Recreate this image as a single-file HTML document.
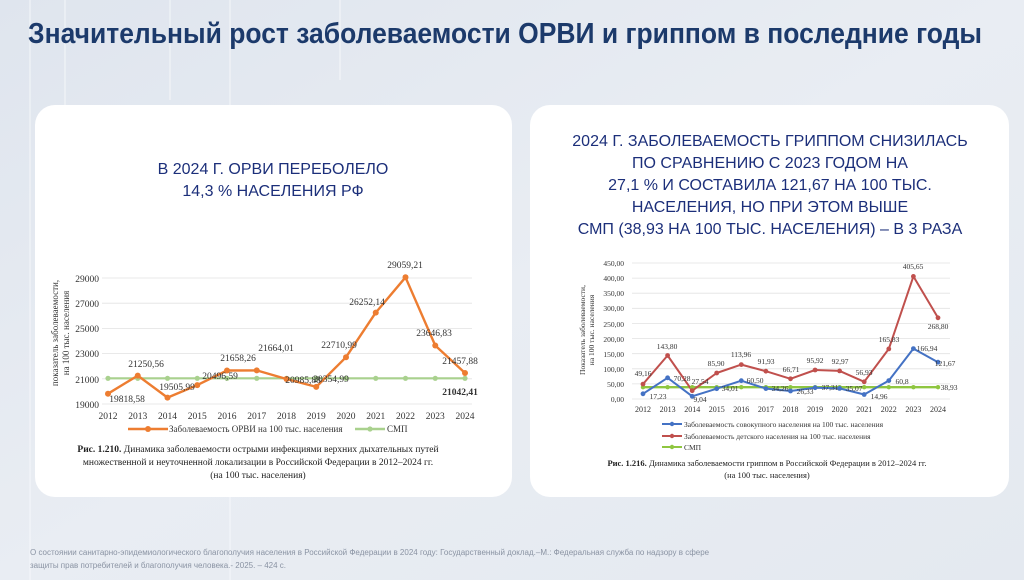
<!DOCTYPE html>
<html><head><meta charset="utf-8"><style>
html,body{margin:0;padding:0;width:1024px;height:580px;overflow:hidden;background:#e6ebf2;}
svg{display:block;font-family:"Liberation Serif",serif;}
</style></head><body>
<svg width="1024" height="580" viewBox="0 0 1024 580" xmlns="http://www.w3.org/2000/svg">
<defs><linearGradient id="bg" x1="0" y1="0" x2="1" y2="1"><stop offset="0" stop-color="#dfe5ee"/><stop offset="0.5" stop-color="#e9edf3"/><stop offset="1" stop-color="#e4e9f0"/></linearGradient></defs>
<rect width="1024" height="580" fill="url(#bg)"/>
<g stroke="#f6f8fb" stroke-width="1.2" fill="none" opacity="0.8">
<line x1="30" y1="0" x2="30" y2="580"/><line x1="65" y1="0" x2="65" y2="200"/><line x1="170" y1="0" x2="170" y2="100"/><line x1="230" y1="0" x2="230" y2="580"/><line x1="340" y1="0" x2="340" y2="80"/>
</g>
<text x="28" y="43" font-family="'Liberation Sans Narrow','Liberation Sans',sans-serif" font-weight="bold" font-size="29" fill="#1c3a6b" textLength="954" lengthAdjust="spacingAndGlyphs">Значительный рост заболеваемости ОРВИ и гриппом в последние годы</text>

<rect x="35" y="105" width="477" height="392" rx="20" fill="#fff"/>
<rect x="530" y="105" width="479" height="392" rx="20" fill="#fff"/>

<g font-family="'Liberation Sans',sans-serif" font-size="16" fill="#1c2f7a" text-anchor="middle">
<text x="273" y="174">В 2024 Г. ОРВИ ПЕРЕБОЛЕЛО</text>
<text x="273" y="196">14,3 % НАСЕЛЕНИЯ РФ</text>
<text x="770" y="146">2024 Г. ЗАБОЛЕВАЕМОСТЬ ГРИППОМ СНИЗИЛАСЬ</text>
<text x="770" y="168">ПО СРАВНЕНИЮ С 2023 ГОДОМ НА</text>
<text x="770" y="190">27,1 % И СОСТАВИЛА 121,67 НА 100 ТЫС.</text>
<text x="770" y="212">НАСЕЛЕНИЯ, НО ПРИ ЭТОМ ВЫШЕ</text>
<text x="770" y="234">СМП (38,93 НА 100 ТЫС. НАСЕЛЕНИЯ) – В 3 РАЗА</text>
</g>

<!-- left chart -->
<g stroke="#e2e2e2" stroke-width="0.8">
<line x1="102" y1="404" x2="472" y2="404"/><line x1="102" y1="378.8" x2="472" y2="378.8"/><line x1="102" y1="353.6" x2="472" y2="353.6"/><line x1="102" y1="328.4" x2="472" y2="328.4"/><line x1="102" y1="303.2" x2="472" y2="303.2"/><line x1="102" y1="278" x2="472" y2="278"/>
</g>
<g font-size="9.5" fill="#333" text-anchor="end">
<text x="99" y="408">19000</text><text x="99" y="383">21000</text><text x="99" y="357">23000</text><text x="99" y="332">25000</text><text x="99" y="307">27000</text><text x="99" y="282">29000</text>
</g>
<text transform="translate(58,333) rotate(-90)" font-size="9" fill="#333" text-anchor="middle">показатель заболеваемости,</text>
<text transform="translate(69,333) rotate(-90)" font-size="9" fill="#333" text-anchor="middle">на 100 тыс. населения</text>
<g font-size="9.5" fill="#333" text-anchor="middle">
<text x="108" y="419">2012</text><text x="137.75" y="419">2013</text><text x="167.5" y="419">2014</text><text x="197.25" y="419">2015</text><text x="227" y="419">2016</text><text x="256.75" y="419">2017</text><text x="286.5" y="419">2018</text><text x="316.25" y="419">2019</text><text x="346" y="419">2020</text><text x="375.75" y="419">2021</text><text x="405.5" y="419">2022</text><text x="435.25" y="419">2023</text><text x="465" y="419">2024</text>
</g>
<polyline fill="none" stroke="#a9d18e" stroke-width="2.2" points="108,378.3 465,378.3"/>
<g fill="#a9d18e"><circle cx="108" cy="378.3" r="2.6"/><circle cx="137.75" cy="378.3" r="2.6"/><circle cx="167.5" cy="378.3" r="2.6"/><circle cx="197.25" cy="378.3" r="2.6"/><circle cx="227" cy="378.3" r="2.6"/><circle cx="256.75" cy="378.3" r="2.6"/><circle cx="286.5" cy="378.3" r="2.6"/><circle cx="316.25" cy="378.3" r="2.6"/><circle cx="346" cy="378.3" r="2.6"/><circle cx="375.75" cy="378.3" r="2.6"/><circle cx="405.5" cy="378.3" r="2.6"/><circle cx="435.25" cy="378.3" r="2.6"/><circle cx="465" cy="378.3" r="2.6"/></g>
<polyline fill="none" stroke="#ed7d31" stroke-width="2.4" stroke-linejoin="round" points="108,393.7 137.75,375.6 167.5,397.6 197.25,385.1 227,370.5 256.75,370.4 286.5,379 316.25,386.9 346,357.2 375.75,312.6 405.5,277.3 435.25,345.5 465,373"/>
<g fill="#ed7d31"><circle cx="108" cy="393.7" r="3"/><circle cx="137.75" cy="375.6" r="3"/><circle cx="167.5" cy="397.6" r="3"/><circle cx="197.25" cy="385.1" r="3"/><circle cx="227" cy="370.5" r="3"/><circle cx="256.75" cy="370.4" r="3"/><circle cx="286.5" cy="379" r="3"/><circle cx="316.25" cy="386.9" r="3"/><circle cx="346" cy="357.2" r="3"/><circle cx="375.75" cy="312.6" r="3"/><circle cx="405.5" cy="277.3" r="3"/><circle cx="435.25" cy="345.5" r="3"/><circle cx="465" cy="373" r="3"/></g>
<g font-size="9.5" fill="#333" text-anchor="middle">
<text x="127" y="402">19818,58</text><text x="146" y="367">21250,56</text><text x="177" y="390">19505,99</text><text x="220" y="379">20496,59</text><text x="238" y="361">21658,26</text><text x="276" y="351">21664,01</text><text x="303" y="383">20985,88</text><text x="331" y="382">20354,99</text><text x="339" y="348">22710,99</text><text x="367" y="305">26252,14</text><text x="405" y="268">29059,21</text><text x="434" y="336">23646,83</text><text x="460" y="364">21457,88</text>
<text x="460" y="395" font-weight="bold">21042,41</text>
</g>
<line x1="128" y1="429" x2="168" y2="429" stroke="#ed7d31" stroke-width="2.4"/><circle cx="148" cy="429" r="3" fill="#ed7d31"/>
<text x="169" y="432" font-size="9" fill="#333">Заболеваемость ОРВИ на 100 тыс. населения</text>
<line x1="355" y1="429" x2="385" y2="429" stroke="#a9d18e" stroke-width="2.4"/><circle cx="370" cy="429" r="2.6" fill="#a9d18e"/>
<text x="387" y="432" font-size="9" fill="#333">СМП</text>
<g font-size="9.5" fill="#222" text-anchor="middle">
<text x="258" y="452"><tspan font-weight="bold">Рис. 1.210.</tspan> Динамика заболеваемости острыми инфекциями верхних дыхательных путей</text>
<text x="258" y="465">множественной и неуточненной локализации в Российской Федерации в 2012–2024 гг.</text>
<text x="258" y="478">(на 100 тыс. населения)</text>
</g>

<!-- right chart -->
<g stroke="#e2e2e2" stroke-width="0.8">
<line x1="632" y1="399" x2="950" y2="399"/><line x1="632" y1="383.9" x2="950" y2="383.9"/><line x1="632" y1="368.8" x2="950" y2="368.8"/><line x1="632" y1="353.7" x2="950" y2="353.7"/><line x1="632" y1="338.6" x2="950" y2="338.6"/><line x1="632" y1="323.5" x2="950" y2="323.5"/><line x1="632" y1="308.3" x2="950" y2="308.3"/><line x1="632" y1="293.2" x2="950" y2="293.2"/><line x1="632" y1="278.1" x2="950" y2="278.1"/><line x1="632" y1="263" x2="950" y2="263"/>
</g>
<g font-size="7.5" fill="#333" text-anchor="end">
<text x="624" y="402">0,00</text><text x="624" y="387">50,00</text><text x="624" y="372">100,00</text><text x="624" y="357">150,00</text><text x="624" y="342">200,00</text><text x="624" y="327">250,00</text><text x="624" y="311">300,00</text><text x="624" y="296">350,00</text><text x="624" y="281">400,00</text><text x="624" y="266">450,00</text>
</g>
<text transform="translate(585,330) rotate(-90)" font-size="7.5" fill="#333" text-anchor="middle">Показатель заболеваемости,</text>
<text transform="translate(594,330) rotate(-90)" font-size="7.5" fill="#333" text-anchor="middle">на 100 тыс. населения</text>
<g font-size="8" fill="#333" text-anchor="middle">
<text x="643" y="412">2012</text><text x="667.6" y="412">2013</text><text x="692.2" y="412">2014</text><text x="716.7" y="412">2015</text><text x="741.3" y="412">2016</text><text x="765.9" y="412">2017</text><text x="790.5" y="412">2018</text><text x="815.1" y="412">2019</text><text x="839.6" y="412">2020</text><text x="864.2" y="412">2021</text><text x="888.8" y="412">2022</text><text x="913.4" y="412">2023</text><text x="938" y="412">2024</text>
</g>
<polyline fill="none" stroke="#8fc640" stroke-width="2.4" points="643,387.2 938,387.2"/>
<polyline fill="none" stroke="#4472c4" stroke-width="2" stroke-linejoin="round" points="643,393.8 667.6,377.8 692.2,396.3 716.7,388.7 741.3,380.7 765.9,388.6 790.5,391 815.1,387.7 839.6,388.4 864.2,394.5 888.8,380.6 913.4,348.6 938,362.2"/>
<polyline fill="none" stroke="#c0504d" stroke-width="2" stroke-linejoin="round" points="643,384.1 667.6,355.5 692.2,390.7 716.7,373 741.3,364.6 765.9,371.2 790.5,378.8 815.1,370 839.6,370.9 864.2,381.8 888.8,348.9 913.4,276.4 938,317.8"/>
<g fill="#8fc640"><circle cx="643" cy="387.2" r="2.2"/><circle cx="667.6" cy="387.2" r="2.2"/><circle cx="692.2" cy="387.2" r="2.2"/><circle cx="716.7" cy="387.2" r="2.2"/><circle cx="741.3" cy="387.2" r="2.2"/><circle cx="765.9" cy="387.2" r="2.2"/><circle cx="790.5" cy="387.2" r="2.2"/><circle cx="815.1" cy="387.2" r="2.2"/><circle cx="839.6" cy="387.2" r="2.2"/><circle cx="864.2" cy="387.2" r="2.2"/><circle cx="888.8" cy="387.2" r="2.2"/><circle cx="913.4" cy="387.2" r="2.2"/><circle cx="938" cy="387.2" r="2.2"/></g>
<g fill="#4472c4"><circle cx="643" cy="393.8" r="2.4"/><circle cx="667.6" cy="377.8" r="2.4"/><circle cx="692.2" cy="396.3" r="2.4"/><circle cx="716.7" cy="388.7" r="2.4"/><circle cx="741.3" cy="380.7" r="2.4"/><circle cx="765.9" cy="388.6" r="2.4"/><circle cx="790.5" cy="391" r="2.4"/><circle cx="815.1" cy="387.7" r="2.4"/><circle cx="839.6" cy="388.4" r="2.4"/><circle cx="864.2" cy="394.5" r="2.4"/><circle cx="888.8" cy="380.6" r="2.4"/><circle cx="913.4" cy="348.6" r="2.4"/><circle cx="938" cy="362.2" r="2.4"/></g>
<g fill="#c0504d"><circle cx="643" cy="384.1" r="2.4"/><circle cx="667.6" cy="355.5" r="2.4"/><circle cx="692.2" cy="390.7" r="2.4"/><circle cx="716.7" cy="373" r="2.4"/><circle cx="741.3" cy="364.6" r="2.4"/><circle cx="765.9" cy="371.2" r="2.4"/><circle cx="790.5" cy="378.8" r="2.4"/><circle cx="815.1" cy="370" r="2.4"/><circle cx="839.6" cy="370.9" r="2.4"/><circle cx="864.2" cy="381.8" r="2.4"/><circle cx="888.8" cy="348.9" r="2.4"/><circle cx="913.4" cy="276.4" r="2.4"/><circle cx="938" cy="317.8" r="2.4"/></g>
<g font-size="7.5" fill="#333" text-anchor="middle">
<text x="643" y="376">49,16</text><text x="667" y="349">143,80</text><text x="700" y="384">27,54</text><text x="716" y="366">85,90</text><text x="741" y="357">113,96</text><text x="766" y="364">91,93</text><text x="791" y="372">66,71</text><text x="815" y="363">95,92</text><text x="840" y="364">92,97</text><text x="864" y="375">56,93</text><text x="889" y="342">165,83</text><text x="913" y="269">405,65</text><text x="938" y="329">268,80</text>
<text x="658" y="399">17,23</text><text x="682" y="381">70,28</text><text x="700" y="402">9,04</text><text x="730" y="391">34,01</text><text x="755" y="383">60,50</text><text x="780" y="391">34,26</text><text x="805" y="394">26,33</text><text x="830" y="390">37,31</text><text x="854" y="391">35,07</text><text x="879" y="399">14,96</text><text x="902" y="384">60,8</text><text x="927" y="351">166,94</text><text x="945" y="366">121,67</text><text x="949" y="390">38,93</text>
</g>
<g font-size="7.5" fill="#333">
<line x1="662" y1="424" x2="682" y2="424" stroke="#4472c4" stroke-width="2"/><circle cx="672" cy="424" r="2.2" fill="#4472c4"/>
<text x="684" y="427">Заболеваемость совокупного населения на 100 тыс. населения</text>
<line x1="662" y1="436" x2="682" y2="436" stroke="#c0504d" stroke-width="2"/><circle cx="672" cy="436" r="2.2" fill="#c0504d"/>
<text x="684" y="439">Заболеваемость детского населения на 100 тыс. населения</text>
<line x1="662" y1="447" x2="682" y2="447" stroke="#8fc640" stroke-width="2"/><circle cx="672" cy="447" r="2.2" fill="#8fc640"/>
<text x="684" y="450">СМП</text>
</g>
<g font-size="8.5" fill="#222" text-anchor="middle">
<text x="767" y="466"><tspan font-weight="bold">Рис. 1.216.</tspan> Динамика заболеваемости гриппом в Российской Федерации в 2012–2024 гг.</text>
<text x="767" y="478">(на 100 тыс. населения)</text>
</g>

<g font-family="'Liberation Sans',sans-serif" font-size="8" fill="#8a93a3">
<text x="30" y="555">О состоянии санитарно-эпидемиологического благополучия населения в Российской Федерации в 2024 году: Государственный доклад.–М.: Федеральная служба по надзору в сфере</text>
<text x="30" y="568">защиты прав потребителей и благополучия человека.- 2025. – 424 с.</text>
</g>
</svg>
</body></html>
